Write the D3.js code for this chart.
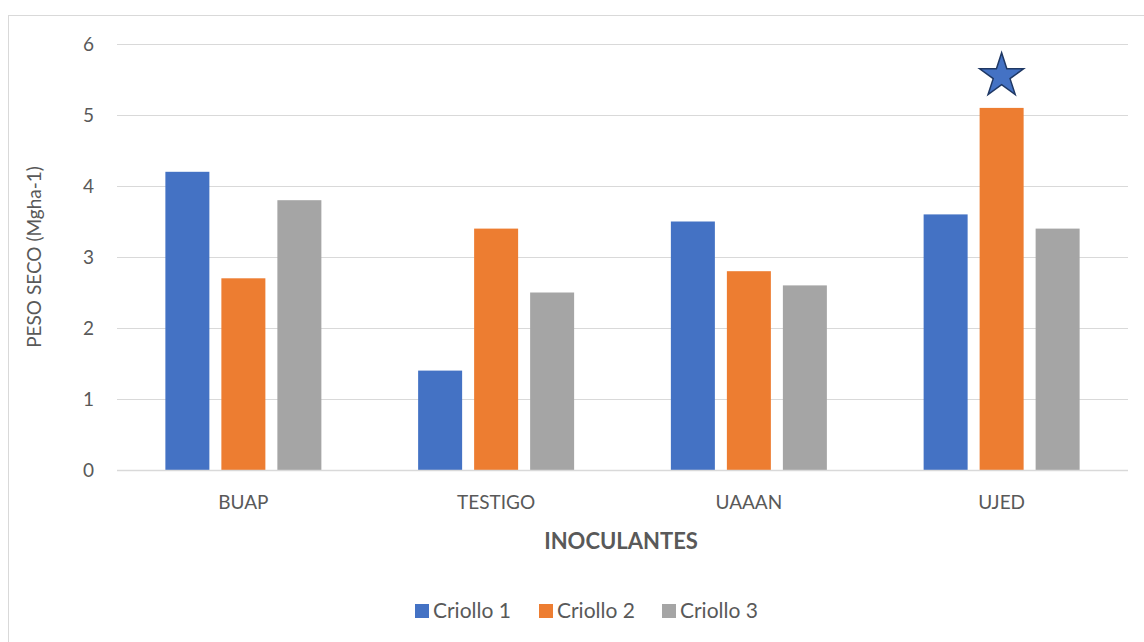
<!DOCTYPE html>
<html><head><meta charset="utf-8">
<script src="https://cdn.jsdelivr.net/npm/d3@7"></script>
<style>body{margin:0;background:#fff}svg{display:block}text{font-family:Lato,"Open Sans",sans-serif}</style>
</head><body>
<script>
const categories = ["BUAP","TESTIGO","UAAAN","UJED"];
const seriesNames = ["Criollo 1","Criollo 2","Criollo 3"];
const criollo1 = [4.2,1.4,3.5,3.6];
const criollo2 = [2.7,3.4,2.8,5.1];
const criollo3 = [3.8,2.5,2.6,3.4];
const yTicks = [0,1,2,3,4,5,6];
const colors = ["#4472C4","#ED7D31","#A5A5A5"];
const series = [criollo1,criollo2,criollo3];

const W=1144,H=642;
const svg=d3.select("body").append("svg").attr("width",W).attr("height",H);
svg.append("rect").attr("x",8.5).attr("y",15.5).attr("width",1200).attr("height",700)
  .attr("fill","#fff").attr("stroke","#d9d9d9");

const x0=d3.scaleBand().domain(categories).range([117,1128]);
const y=d3.scaleLinear().domain([0,6]).range([470,44]);
const barW=44, gap=12;

const g=svg.append("g");
g.selectAll("line.grid").data(yTicks).join("line")
  .attr("x1",117).attr("x2",1128).attr("y1",d=>y(d)+0.5).attr("y2",d=>y(d)+0.5)
  .attr("stroke","#d9d9d9").attr("stroke-width",1);

series.forEach((vals,si)=>{
  g.selectAll(null).data(vals).join("rect")
    .attr("x",(d,i)=>x0(categories[i])+x0.bandwidth()/2 - (barW*1.5+gap) + si*(barW+gap))
    .attr("y",d=>y(d)).attr("width",barW).attr("height",d=>y(0)-y(d))
    .attr("fill",colors[si]);
});
g.append("line").attr("x1",117).attr("x2",1128).attr("y1",y(0)+0.5).attr("y2",y(0)+0.5)
  .attr("stroke","#d9d9d9").attr("stroke-width",1.5);

g.selectAll("text.yt").data(yTicks).join("text")
  .attr("x",94).attr("y",d=>y(d)).attr("dy","0.35em").attr("text-anchor","end")
  .attr("font-size",19).attr("fill","#595959").text(d=>d);
g.selectAll("text.xt").data(categories).join("text")
  .attr("x",d=>x0(d)+x0.bandwidth()/2).attr("y",502).attr("dy","0.35em").attr("text-anchor","middle")
  .attr("font-size",19).attr("fill","#595959").text(d=>d);

svg.append("text").attr("transform","translate(41,257) rotate(-90)").attr("text-anchor","middle")
  .attr("font-size",19).attr("fill","#595959").text("PESO SECO (Mgha-1)");
svg.append("text").attr("x",621).attr("y",541).attr("dy","0.35em").attr("text-anchor","middle")
  .attr("font-size",22).attr("font-weight","bold").attr("fill","#595959").text("INOCULANTES");

const ui=3;
const sx=x0(categories[ui])+x0.bandwidth()/2 - (barW*1.5+gap) + 1*(barW+gap) + barW/2;
const sy=y(criollo2[ui])-32;
const star=d3.symbol().type(d3.symbolStar).size(600);
svg.append("path").attr("d",star()).attr("transform",`translate(${sx},${sy})`)
  .attr("fill","#4472C4").attr("stroke","#1F3864").attr("stroke-width",1.5);

const legX=[415,539,662];
const lg=svg.append("g");
seriesNames.forEach((n,i)=>{
  lg.append("rect").attr("x",legX[i]).attr("y",604).attr("width",14).attr("height",14).attr("fill",colors[i]);
  lg.append("text").attr("x",legX[i]+18).attr("y",611).attr("dy","0.35em").attr("font-size",21)
    .attr("fill","#595959").text(n);
});
</script>
</body></html>
